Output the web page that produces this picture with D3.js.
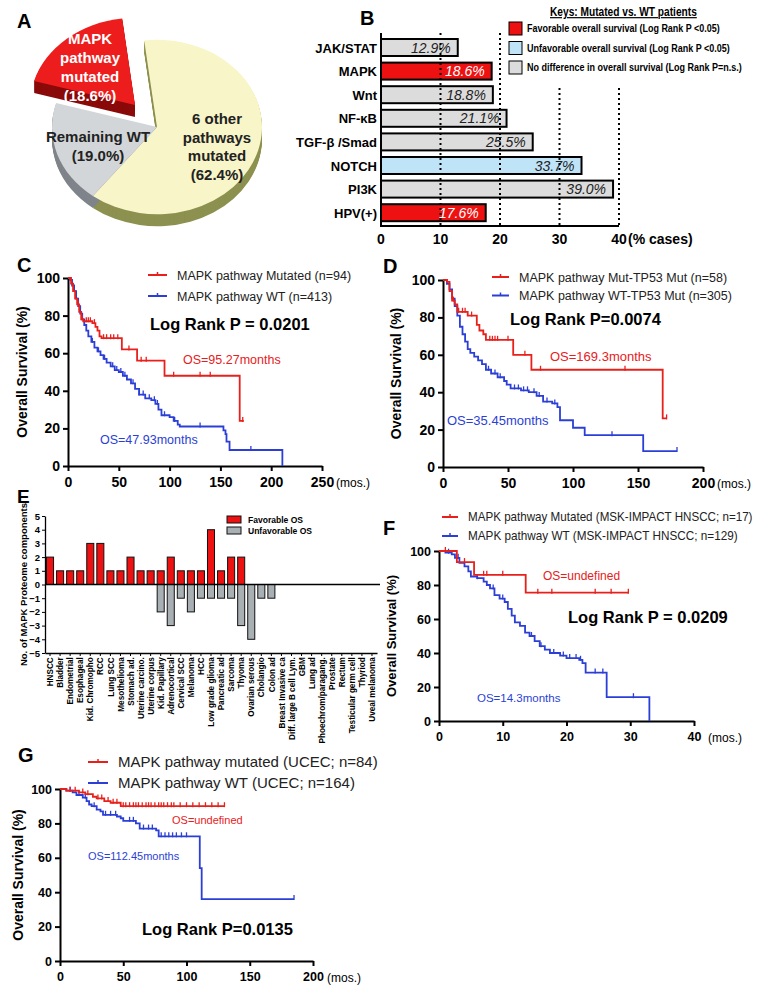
<!DOCTYPE html>
<html>
<head>
<meta charset="utf-8">
<script src="https://cdn.jsdelivr.net/npm/d3@7"></script>
<style>
  body { margin: 0; background: #fff; }
  svg { font-family: "Liberation Sans", Arial, sans-serif; }
</style>
</head>
<body>
<script>
// ---------- data ----------
// A: pie
const pieLabels = ["6 other pathways mutated", "Remaining WT", "MAPK pathway mutated"];
const pieValues = [62.4, 19.0, 18.6];

// B: pathway bars
const pathways = ["JAK/STAT", "MAPK", "Wnt", "NF-κB", "TGF-β /Smad", "NOTCH", "PI3K", "HPV(+)"];
const pathwayPct = [12.9, 18.6, 18.8, 21.1, 25.5, 33.7, 39.0, 17.6];
const pathwayOS = ["ns", "fav", "ns", "ns", "ns", "unfav", "ns", "fav"];
const keyLabels = ["Favorable overall survival (Log Rank P <0.05)",
                   "Unfavorable overall survival (Log Rank P <0.05)",
                   "No difference in overall survival (Log Rank P=n.s.)"];
const barTicks = [0, 10, 20, 30, 40];

// E: proteome components per cancer type
const cancerTypes = ["HNSCC", "Bladder", "Endometrial", "Esophageal", "Kid. Chromopho", "RCC", "Lung SCC",
  "Mesothelioma", "Stomach ad.", "Uterine carcino.", "Uterine corpus", "Kid. Papillary", "Adrenocortical",
  "Cervical SCC", "Melanoma", "HCC", "Low grade glioma", "Pancreatic ad", "Sarcoma", "Thyoma",
  "Ovarian serous", "Cholangio", "Colon ad", "Breast Invasive ca", "Diff. large B cell Lym.", "GBM",
  "Lung ad", "Phoechrom/paragang.", "Prostate", "Rectum", "Testicular germ cell", "Thyriod", "Uveal melanoma"];
const favorableOS =   [2, 1, 1, 1, 3, 3, 1, 1, 2, 1, 1, 1, 2, 1, 1, 1, 4, 1, 2, 2, 0, 0, 0, 0, 0, 0, 0, 0, 0, 0, 0, 0, 0];
const unfavorableOS = [0, 0, 0, 0, 0, 0, 0, 0, 0, 0, 0, -2, -3, -1, -2, -1, -1, -1, -1, -3, -4, -1, -1, 0, 0, 0, 0, 0, 0, 0, 0, 0, 0];
const eTicks = [5, 4, 3, 2, 1, 0, -1, -2, -3, -4, -5];

// Kaplan-Meier curves: [months, survival %] steps, and censor times
const cMutSteps = [[0,100],[3,97],[5,93],[7,89],[9,86],[11,82],[13,78],[15,77],[24,76],[27,74],[29,72],[31,69],[33,68],[53,62],[68,56],[95,48],[169,24],[173,24]];
const cMutCensor = [10,14,18,20,22,26,35,38,42,45,49,60,72,77,104,130,140,172];
const cWtSteps = [[0,100],[2,99],[4,96],[6,93],[8,89],[10,85],[12,81],[14,78],[16,75],[18,72],[20,69],[23,66],[26,63],[29,61],[32,59],[35,57],[38,55],[42,53],[46,51],[50,50],[54,48],[58,46],[62,44],[66,41],[70,38],[76,36],[82,35],[86,33],[89,30],[92,27],[100,26],[104,24],[108,22],[110,21],[153,19],[155,17],[156,13],[159,8.5],[211,0]];
const cWtCensor = [24,30,36,44,48,52,56,64,70,74,80,85,88,95,105,130,180];

const dMutSteps = [[0,100],[3,99],[5,94],[7,89],[9,87],[11,83],[19,81],[26,76],[28,73],[31,71],[33,68],[54,60],[68,52],[169,26],[172,26]];
const dMutCensor = [8,12,15,17,22,36,38,40,42,50,63,75,140,172];
const dWtSteps = [[0,100],[3,98],[5,95],[7,90],[9,86],[11,81],[13,75],[15,71],[17,67],[19,63],[21,61],[24,59],[27,57],[30,55],[33,52],[37,50],[42,48],[47,46],[49,44],[52,42],[60,41],[66,40],[72,38],[77,35],[84,34],[88,32],[90,25],[100,21],[109,17],[154,8.5],[180,8.5]];
const dWtCensor = [35,40,44,55,58,62,65,70,74,80,86,130,180];

const fMutSteps = [[0,100],[2.8,93.5],[5.5,86],[13.6,75.5],[29.7,75.5]];
const fMutCensor = [1,4,7,7.5,10,15.5,17.7,24.5,27,29.7];
const fWtSteps = [[0,100],[1,99],[2,98],[2.5,96],[3.2,93],[4,91],[4.6,88],[5,85],[6,84],[7,82],[7.5,80],[8,78],[8.7,74],[9.5,72],[10.3,70],[10.8,66],[11.4,62],[11.9,58],[12.7,56],[13.5,52],[14.2,50],[15,47],[15.8,44],[16.6,42],[17.4,40],[19,38.5],[20,37],[22,36],[22.5,34],[23,28.5],[26.3,14],[33,0]];
const fWtCensor = [1.5,3,6,8.5,10,14.5,16,18,19.5,20.5,21.5,22.2,24.5,25.7,30.5];

const gMutSteps = [[0,100],[5,99],[15,98],[20,97],[26,95.5],[29,94.5],[35,93],[40,92],[48,90],[130,90]];
const gMutCensor = [8,12,18,22,30,33,38,42,45,50,52,55,58,60,62,65,68,70,72,75,78,80,82,85,88,90,95,100,105,110,115,120,125,130];
const gWtSteps = [[0,100],[5,99],[10,98],[13,96.5],[18,95],[21,93],[23,91],[25,90],[29,88],[32,87],[34,85],[45,84],[48,83],[50,81.5],[60,80],[63,77],[76,76],[78,72.5],[110,72.5],[110.5,54],[112,36],[185,36]];
const gWtCensor = [8,15,20,27,36,40,44,55,58,66,70,73,80,83,86,89,92,96,100,185];

const survTicks = [0, 20, 40, 60, 80, 100];

// ---------- setup ----------
const W = 758, H = 985;
const RED = "#e8201c", BLUE = "#2b3fd6";
const svg = d3.select("body").append("svg").attr("width", W).attr("height", H);

function letter(txt, x, y) {
  svg.append("text").attr("x", x).attr("y", y).attr("font-size", 20).attr("font-weight", "bold").text(txt);
}
// squeeze a text horizontally so it spans `width` px from (x, y)
function fitText(sel, x, y, width) {
  const w = sel.node().getComputedTextLength();
  sel.attr("x", 0).attr("y", 0).attr("transform", `translate(${x},${y}) scale(${Math.min(1, width / w)},1)`);
}

// ---------- A: pie ----------
const cx = 157, cy = 127, R = 105, sy = 0.83, depth = 12;
const pieTop = ["#f8f5c8", "#d3d6d8", "#ee1d1d"];
const pieSide = ["#8d9150", "#7f848a", "#8a0a0a"];
const a0 = -7 * Math.PI / 180;
const slices = d3.pie().sort(null).startAngle(a0).endAngle(a0 + 2 * Math.PI)(pieValues);
const arc = d3.arc().innerRadius(0).outerRadius(R);
// red slice pulled out towards the upper left (screen px)
const redShift = [-22, -22];
function drawSlice(i, withSide) {
  const d = slices[i];
  const e = i === 2 ? redShift : [0, 0];
  const ks = withSide ? d3.range(depth, 0, -1) : [0];
  ks.forEach(k => {
    svg.append("g").attr("transform", `translate(${cx + e[0]},${cy + e[1] + k}) scale(1,${sy})`)
      .append("path").attr("d", arc(d))
      .attr("fill", withSide ? pieSide[i] : pieTop[i]);
  });
}
drawSlice(0, true); drawSlice(1, true);
drawSlice(0, false); drawSlice(1, false);
drawSlice(2, true); drawSlice(2, false);

function multiText(lines, x, y0, dy, color, size) {
  const t = svg.append("text").attr("text-anchor", "middle").attr("font-size", size)
    .attr("font-weight", "bold").attr("fill", color);
  lines.forEach((l, i) => t.append("tspan").attr("x", x).attr("y", y0 + i * dy).text(l));
}
multiText(["MAPK", "pathway", "mutated", "(" + pieValues[2].toFixed(1) + "%)"], 90, 44, 19, "#fff", 15);
multiText(["Remaining WT", "(" + pieValues[1].toFixed(1) + "%)"], 98, 142, 19, "#222", 15);
multiText(["6 other", "pathways", "mutated", "(" + pieValues[0].toFixed(1) + "%)"], 217, 124, 18.5, "#222", 15);
letter("A", 17, 28);

// ---------- B: bars ----------
const bx = d3.scaleLinear().domain([0, 40]).range([381, 619]);
const by = d3.scaleBand().domain(pathways).range([35.7, 224.5]).paddingInner(0.28).paddingOuter(0.14);
const osColor = { fav: "#ee1111", unfav: "#bfe4f8", ns: "#dcdcdc" };

svg.selectAll(".pbar").data(pathways).join("rect").attr("class", "pbar")
  .attr("x", bx(0)).attr("y", d => by(d))
  .attr("width", (d, i) => bx(pathwayPct[i]) - bx(0)).attr("height", by.bandwidth())
  .attr("fill", (d, i) => osColor[pathwayOS[i]]).attr("stroke", "#000").attr("stroke-width", 2);

svg.selectAll(".pval").data(pathways).join("text").attr("class", "pval")
  .attr("x", (d, i) => bx(pathwayPct[i]) - 7).attr("y", d => by(d) + by.bandwidth() / 2 + 5)
  .attr("text-anchor", "end").attr("font-size", 14).attr("font-style", "italic")
  .attr("fill", (d, i) => pathwayOS[i] === "fav" ? "#fff" : "#222")
  .text((d, i) => pathwayPct[i].toFixed(1) + "%");

svg.selectAll(".pname").data(pathways).join("text").attr("class", "pname")
  .attr("x", 377).attr("y", d => by(d) + by.bandwidth() / 2 + 5)
  .attr("text-anchor", "end").attr("font-size", 13).attr("font-weight", "bold").text(d => d);

// dotted grid lines
svg.selectAll(".grid").data(barTicks.slice(1)).join("line").attr("class", "grid")
  .attr("x1", d => bx(d)).attr("x2", d => bx(d))
  .attr("y1", d => d <= 20 ? 33 : 88).attr("y2", 226)
  .attr("stroke", "#000").attr("stroke-width", 2).attr("stroke-dasharray", "2,3");

svg.append("line").attr("x1", bx(0)).attr("x2", bx(0)).attr("y1", 33).attr("y2", 227).attr("stroke", "#000").attr("stroke-width", 2);
svg.append("line").attr("x1", bx(0) - 1).attr("x2", bx(40)).attr("y1", 226).attr("y2", 226).attr("stroke", "#000").attr("stroke-width", 2);
svg.selectAll(".btick").data(barTicks).join("text").attr("class", "btick")
  .attr("x", d => bx(d)).attr("y", 244).attr("text-anchor", "middle")
  .attr("font-size", 14).attr("font-weight", "bold").text(d => d);
svg.append("text").attr("x", bx(40) + 9).attr("y", 244).attr("font-size", 14).attr("font-weight", "bold").text("(% cases)");

// key
const keyTitle = svg.append("text").attr("font-size", 12).attr("font-weight", "bold")
  .attr("text-decoration", "underline").text("Keys: Mutated vs. WT patients");
fitText(keyTitle, 550, 16, 147);
const keyCols = [osColor.fav, osColor.unfav, osColor.ns];
const keyLen = [193, 203, 215];
keyLabels.forEach((k, i) => {
  svg.append("rect").attr("x", 509).attr("y", 22 + i * 19.5).attr("width", 13).attr("height", 13)
    .attr("fill", keyCols[i]).attr("stroke", "#000").attr("stroke-width", 1);
  const t = svg.append("text").attr("font-size", 10.5).attr("font-weight", "bold").text(k);
  fitText(t, 527, 32 + i * 19.5, keyLen[i]);
});
letter("B", 360, 25);

// ---------- KM helpers ----------
function survAt(steps, t) {
  let s = steps[0][1];
  for (const p of steps) if (p[0] <= t) s = p[1];
  return s;
}
function drawKM(x, y, steps, censors, color) {
  const line = d3.line().x(d => x(d[0])).y(d => y(d[1])).curve(d3.curveStepAfter);
  svg.append("path").attr("d", line(steps)).attr("fill", "none")
    .attr("stroke", color).attr("stroke-width", 1.8);
  svg.append("g").selectAll("line").data(censors).join("line")
    .attr("x1", d => x(d)).attr("x2", d => x(d))
    .attr("y1", d => y(survAt(steps, d)) - 4).attr("y2", d => y(survAt(steps, d)) + 1)
    .attr("stroke", color).attr("stroke-width", 1.3);
}
function kmAxes(x, y, xTicks, fs, titleX, titleSize) {
  const gx = svg.append("g").attr("transform", `translate(0,${y(0)})`)
    .call(d3.axisBottom(x).tickValues(xTicks).tickSize(5).tickSizeOuter(0).tickPadding(6));
  const gy = svg.append("g").attr("transform", `translate(${x(0)},0)`)
    .call(d3.axisLeft(y).tickValues(survTicks).tickSize(5).tickSizeOuter(0).tickPadding(3));
  [gx, gy].forEach(g => {
    g.select(".domain").attr("stroke-width", 2);
    g.selectAll(".tick line").attr("stroke-width", 2);
    g.selectAll(".tick text").attr("font-size", fs).attr("font-weight", "bold").attr("fill", "#000")
      .style("font-family", "'Liberation Sans', Arial");
  });
  svg.append("text").attr("x", x(xTicks[xTicks.length - 1]) + 14).attr("y", y(0) + 21)
    .attr("font-size", 12).text("(mos.)");
  svg.append("text").attr("transform", `translate(${titleX},${(y(0) + y(100)) / 2}) rotate(-90)`)
    .attr("text-anchor", "middle").attr("font-size", titleSize).attr("font-weight", "bold")
    .text("Overall Survival  (%)");
}
function kmLegend(x, y, dy, labels, size, lineW, widths) {
  [RED, BLUE].forEach((c, i) => {
    const yy = y + i * dy;
    svg.append("line").attr("x1", x).attr("x2", x + lineW).attr("y1", yy).attr("y2", yy).attr("stroke", c).attr("stroke-width", 2);
    svg.append("line").attr("x1", x + lineW / 2).attr("x2", x + lineW / 2).attr("y1", yy - 3).attr("y2", yy).attr("stroke", c).attr("stroke-width", 1.5);
    const t = svg.append("text").attr("x", x + lineW + 10).attr("y", yy + size * 0.36)
      .attr("font-size", size).attr("fill", "#222").text(labels[i]);
    if (widths) fitText(t, x + lineW + 10, yy + size * 0.36, widths[i]);
  });
}
function note(txt, x, y, size, color, bold) {
  svg.append("text").attr("x", x).attr("y", y).attr("font-size", size).attr("fill", color)
    .attr("font-weight", bold ? "bold" : "normal").text(txt);
}

// ---------- C ----------
const cX = d3.scaleLinear().domain([0, 250]).range([68, 322]);
const cY = d3.scaleLinear().domain([0, 100]).range([466, 278]);
kmAxes(cX, cY, [0, 50, 100, 150, 200, 250], 14, 27, 14);
drawKM(cX, cY, cWtSteps, cWtCensor, BLUE);
drawKM(cX, cY, cMutSteps, cMutCensor, RED);
kmLegend(148, 275, 21, ["MAPK pathway Mutated (n=94)", "MAPK pathway WT (n=413)"], 12.5, 19);
note("Log Rank P = 0.0201", 150, 330, 16.5, "#000", true);
note("OS=95.27months", 183, 364, 12.5, RED, false);
note("OS=47.93months", 100, 444, 12.5, BLUE, false);
letter("C", 17, 272);

// ---------- D ----------
const dX = d3.scaleLinear().domain([0, 200]).range([443, 703]);
const dY = d3.scaleLinear().domain([0, 100]).range([467, 280]);
kmAxes(dX, dY, [0, 50, 100, 150, 200], 14, 401, 14);
drawKM(dX, dY, dWtSteps, dWtCensor, BLUE);
drawKM(dX, dY, dMutSteps, dMutCensor, RED);
kmLegend(492, 277, 18.5, ["MAPK pathway Mut-TP53 Mut (n=58)", "MAPK pathway WT-TP53 Mut (n=305)"], 12.5, 17);
note("Log Rank P=0.0074", 510, 325, 16.5, "#000", true);
note("OS=169.3months", 550, 361, 13, RED, false);
note("OS=35.45months", 447, 425, 13, BLUE, false);
letter("D", 383, 273);

// ---------- E ----------
const eX = d3.scaleBand().domain(cancerTypes).range([45, 377]).paddingInner(0.3).paddingOuter(0.15);
const eY = d3.scaleLinear().domain([-5, 5]).range([653, 516]);
svg.selectAll(".efav").data(cancerTypes).join("rect").attr("class", "efav")
  .attr("x", d => eX(d)).attr("width", eX.bandwidth())
  .attr("y", (d, i) => eY(favorableOS[i])).attr("height", (d, i) => eY(0) - eY(favorableOS[i]))
  .attr("fill", "#ee1111").attr("stroke", "#111").attr("stroke-width", 1)
  .attr("display", (d, i) => favorableOS[i] ? null : "none");
svg.selectAll(".eunf").data(cancerTypes).join("rect").attr("class", "eunf")
  .attr("x", d => eX(d)).attr("width", eX.bandwidth())
  .attr("y", eY(0)).attr("height", (d, i) => eY(unfavorableOS[i]) - eY(0))
  .attr("fill", "#a8b0b4").attr("stroke", "#111").attr("stroke-width", 1)
  .attr("display", (d, i) => unfavorableOS[i] ? null : "none");
svg.append("line").attr("x1", 45).attr("x2", 380).attr("y1", eY(0)).attr("y2", eY(0)).attr("stroke", "#000").attr("stroke-width", 1.3);
const eyAxis = svg.append("g").attr("transform", "translate(45,0)")
  .call(d3.axisLeft(eY).tickValues(eTicks).tickSize(3).tickSizeOuter(0).tickPadding(2));
eyAxis.selectAll(".tick text").attr("font-size", 9.5).attr("font-weight", "bold").attr("fill", "#000");
eyAxis.select(".domain").attr("stroke-width", 1.3);
const exAxis = svg.append("g").attr("transform", `translate(0,${eY(-5)})`)
  .call(d3.axisBottom(eX).tickSize(3).tickSizeOuter(0).tickPadding(3));
exAxis.select(".domain").attr("stroke-width", 1.3);
exAxis.selectAll(".tick text").attr("font-size", 9.5).attr("font-weight", "bold").attr("fill", "#000")
  .attr("transform", "rotate(-90) scale(0.86,1)").attr("text-anchor", "end").attr("x", -5).attr("y", 0).attr("dy", "0.33em");
svg.append("text").attr("transform", `translate(27,${eY(0)}) rotate(-90)`).attr("text-anchor", "middle")
  .attr("font-size", 9.5).attr("font-weight", "bold").text("No. of MAPK Proteome components");
[["Favorable OS", "#ee1111"], ["Unfavorable OS", "#a8b0b4"]].forEach((k, i) => {
  svg.append("rect").attr("x", 227).attr("y", 516 + i * 11).attr("width", 14).attr("height", 7)
    .attr("fill", k[1]).attr("stroke", "#111").attr("stroke-width", 1);
  svg.append("text").attr("font-size", 9.5).attr("font-weight", "bold")
    .attr("transform", `translate(248,${523 + i * 11}) scale(0.9,1)`).text(k[0]);
});
svg.append("text").attr("x", 17).attr("y", 503).attr("font-size", 19).attr("font-weight", "bold").text("E");

// ---------- F ----------
const fX = d3.scaleLinear().domain([0, 40]).range([439, 694]);
const fY = d3.scaleLinear().domain([0, 100]).range([721, 551]);
kmAxes(fX, fY, [0, 10, 20, 30, 40], 12.5, 396, 13);
drawKM(fX, fY, fWtSteps, fWtCensor, BLUE);
drawKM(fX, fY, fMutSteps, fMutCensor, RED);
kmLegend(442, 517, 19, ["MAPK pathway Mutated (MSK-IMPACT HNSCC; n=17)", "MAPK pathway WT (MSK-IMPACT HNSCC; n=129)"], 12, 16, [285, 270]);
note("OS=undefined", 543, 580, 12, RED, false);
note("Log Rank P = 0.0209", 568, 623, 16.5, "#000", true);
note("OS=14.3months", 477, 702, 11.5, BLUE, false);
letter("F", 383, 535);

// ---------- G ----------
const gX = d3.scaleLinear().domain([0, 200]).range([60, 313]);
const gY = d3.scaleLinear().domain([0, 100]).range([961, 789]);
kmAxes(gX, gY, [0, 50, 100, 150, 200], 12.5, 23, 14);
drawKM(gX, gY, gWtSteps, gWtCensor, BLUE);
drawKM(gX, gY, gMutSteps, gMutCensor, RED);
kmLegend(88, 762, 21, ["MAPK pathway mutated (UCEC; n=84)", "MAPK pathway WT (UCEC; n=164)"], 15, 20);
note("OS=undefined", 172, 824, 11, RED, false);
note("OS=112.45months", 88, 860, 11, BLUE, false);
note("Log Rank P=0.0135", 142, 935, 16.5, "#000", true);
letter("G", 18, 762);
</script>
</body>
</html>
